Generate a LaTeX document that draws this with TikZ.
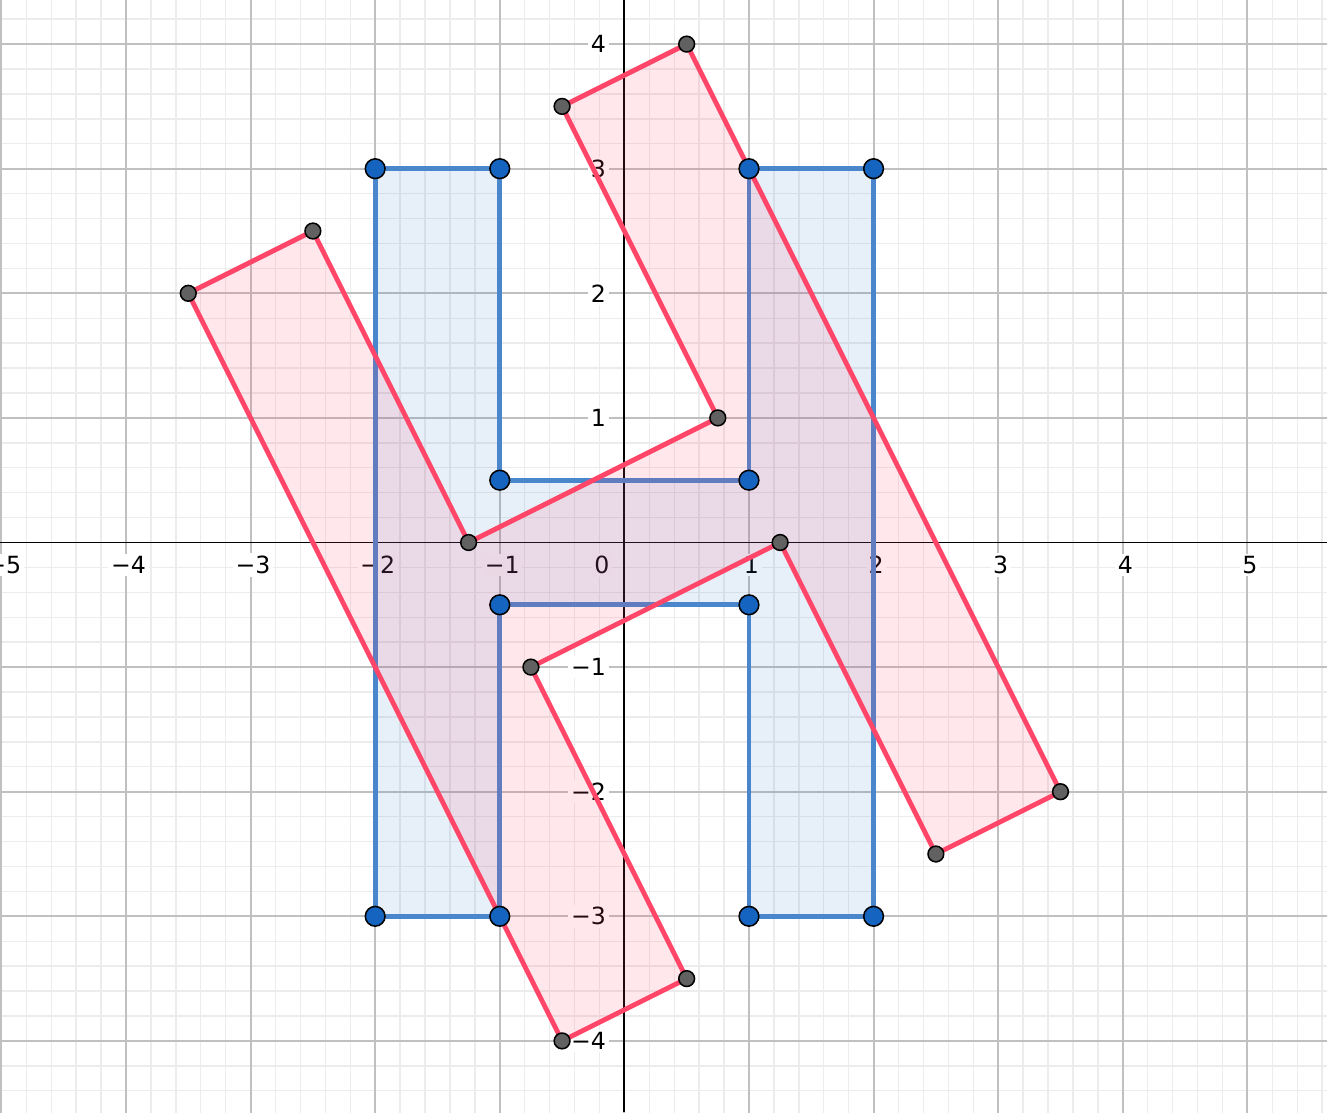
\documentclass[tikz,border=0pt]{standalone}
\usepackage{fontspec}
\setmainfont{DejaVu Sans}
\definecolor{minorc}{RGB}{236,236,236}
\definecolor{majorc}{RGB}{192,192,192}
\definecolor{blueline}{RGB}{74,134,204}
\definecolor{bluefill}{RGB}{21,101,192}
\definecolor{ptblue}{RGB}{21,101,192}
\definecolor{redline}{RGB}{255,70,105}
\definecolor{ptgray}{RGB}{97,97,97}
\begin{document}
\begin{tikzpicture}[x=1cm,y=1cm,
  lab/.style={font=\fontsize{5.4}{6}\selectfont, inner sep=0.6pt, fill=white},
  minorgrid/.style={draw=minorc, line width=0.32pt},
  majorgrid/.style={draw=majorc, line width=0.45pt},
  axisline/.style={draw=black, line width=0.45pt},
  bluepoly/.style={draw=blueline, line width=1.1pt, fill=bluefill, fill opacity=0.1, line join=round},
  redpoly/.style={draw=redline, line width=1.1pt, fill=redline, fill opacity=0.13, line join=round},
  bpt/.style={circle, fill=ptblue, draw=black, line width=0.35pt, minimum size=4.5pt, inner sep=0pt},
  gpt/.style={circle, fill=ptgray, draw=black, line width=0.35pt, minimum size=3.6pt, inner sep=0pt}]
\useasboundingbox (-5.011,-4.571) rectangle (5.639,4.354);
\clip (-5.011,-4.571) rectangle (5.639,4.354);
% grid
\draw[minorgrid] (-5.2,-4.6) grid[step=0.2] (5.8,4.4);
\draw[majorgrid] (-5.2,-4.6) grid[step=1] (5.8,4.4);
% axes
\coordinate (xl) at (-5.011,0); \coordinate (xr) at (5.639,0);
\coordinate (yb) at (0,-4.571); \coordinate (yt) at (0,4.354);
\draw[axisline] (xl) -- (xr);
\draw[axisline] (yb) -- (yt);
% axis labels
\foreach \v/\t in {-5/{−5},-4/{−4},-3/{−3},-2/{−2},-1/{−1},1/1,2/2,3/3,4/4,5/5}
  \node[lab] (xlab\v) at (\v+0.02,-0.18) {\t};
\foreach \v/\t in {-4/{−4},-3/{−3},-2/{−2},-1/{−1},1/1,2/2,3/3,4/4}
  \node[lab, anchor=east] (ylab\v) at (-0.12,\v) {\t};
\node[lab] (zero) at (-0.18,-0.18) {0};
% blue H vertices
\coordinate (B1) at (-2,3);   \coordinate (B2) at (-1,3);
\coordinate (B3) at (-1,0.5); \coordinate (B4) at (1,0.5);
\coordinate (B5) at (1,3);    \coordinate (B6) at (2,3);
\coordinate (B7) at (2,-3);   \coordinate (B8) at (1,-3);
\coordinate (B9) at (1,-0.5); \coordinate (B10) at (-1,-0.5);
\coordinate (B11) at (-1,-3); \coordinate (B12) at (-2,-3);
% red rotated H vertices
\coordinate (R1) at (0.5,4);    \coordinate (R2) at (3.5,-2);
\coordinate (R3) at (2.5,-2.5); \coordinate (R4) at (1.25,0);
\coordinate (R5) at (-0.75,-1); \coordinate (R6) at (0.5,-3.5);
\coordinate (R7) at (-0.5,-4);  \coordinate (R8) at (-3.5,2);
\coordinate (R9) at (-2.5,2.5); \coordinate (R10) at (-1.25,0);
\coordinate (R11) at (0.75,1);  \coordinate (R12) at (-0.5,3.5);
% polygons
\draw[bluepoly] (B1) -- (B2) -- (B3) -- (B4) -- (B5) -- (B6) -- (B7) -- (B8) -- (B9) -- (B10) -- (B11) -- (B12) -- cycle;
\draw[redpoly] (R1) -- (R2) -- (R3) -- (R4) -- (R5) -- (R6) -- (R7) -- (R8) -- (R9) -- (R10) -- (R11) -- (R12) -- cycle;
% points
\foreach \i in {1,...,12} \node[gpt] (r\i) at (R\i) {};
\foreach \i in {1,...,12} \node[bpt] (b\i) at (B\i) {};
\end{tikzpicture}
\end{document}
